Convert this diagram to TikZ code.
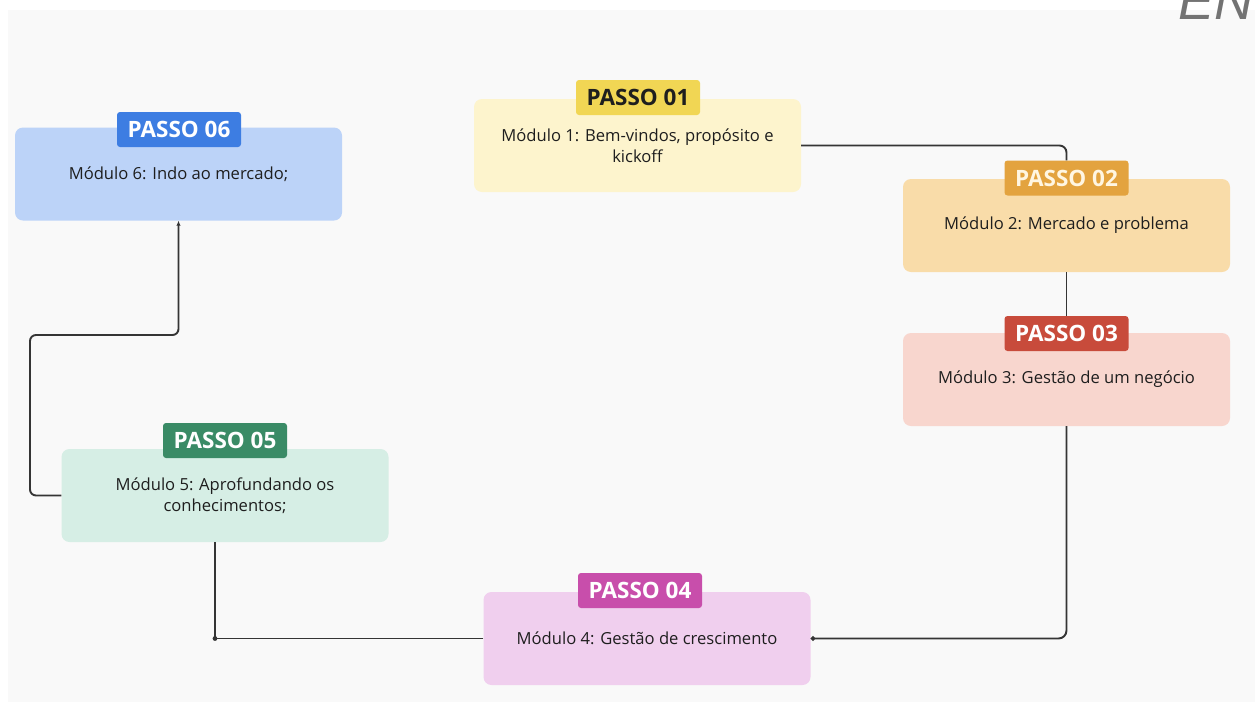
\documentclass[tikz,border=0pt]{standalone}
\usepackage{fontspec}
\setmainfont{Open Sans}
\newfontfamily\markfont{Liberation Sans}
\usetikzlibrary{arrows.meta}

\definecolor{panelbg}{HTML}{F9F9F9}
\definecolor{ink}{HTML}{1E1E1E}
\definecolor{wire}{HTML}{353535}
\definecolor{fillA}{HTML}{FDF4CD}\definecolor{tagA}{HTML}{F1D654}
\definecolor{fillB}{HTML}{F9DCA9}\definecolor{tagB}{HTML}{E3A33F}
\definecolor{fillC}{HTML}{F8D6CE}\definecolor{tagC}{HTML}{C84B3B}
\definecolor{fillD}{HTML}{F0CFEE}\definecolor{tagD}{HTML}{C84EAB}
\definecolor{fillE}{HTML}{D6EEE5}\definecolor{tagE}{HTML}{3A8B66}
\definecolor{fillF}{HTML}{BCD3F8}\definecolor{tagF}{HTML}{3D7DE2}
\definecolor{creamtext}{HTML}{FFF6E2}

\tikzset{
  modbox/.style={rectangle, rounded corners=8pt, draw=none, minimum width=327pt,
    minimum height=93pt, align=center, text=ink, inner sep=0pt,
    font=\fontsize{16.6}{21}\selectfont},
  tagbox/.style={rectangle, rounded corners=3pt, draw=none, minimum width=124pt,
    minimum height=35pt, inner sep=0pt, text=white,
    font=\fontsize{22.5}{22.5}\selectfont\bfseries},
  conn/.style={draw=wire, line width=1.9pt},
}

\begin{document}
\begin{tikzpicture}[x=1pt,y=-1pt]
\useasboundingbox (0,0) rectangle (1255,702);
\fill[panelbg] (8,10) rectangle (1255,702);
\node[anchor=base west, text=black!55, inner sep=0pt,
      font=\markfont\itshape\fontsize{54}{54}\selectfont] (mark) at (1178,19) {EN};

% module cards
\node[modbox, fill=fillA] (b1) at (637.5,145.5) {Módulo 1: Bem-vindos, propósito e\\kickoff};
\node[modbox, fill=fillB] (b2) at (1066.5,225.5) {Módulo 2: Mercado e problema};
\node[modbox, fill=fillC] (b3) at (1066.5,379.5) {Módulo 3: Gestão de um negócio};
\node[modbox, fill=fillD] (b4) at (647,638.5) {Módulo 4: Gestão de crescimento};
\node[modbox, fill=fillE] (b5) at (225,495.5) {Módulo 5: Aprofundando os\\conhecimentos;};
\node[modbox, fill=fillF] (b6) at (178.5,174) {Módulo 6: Indo ao mercado;};

% step tags
\node[tagbox, fill=tagA, text=ink] (p1) at (638,97.5) {PASSO 01};
\node[tagbox, fill=tagB, text=creamtext] (p2) at (1066.5,178) {PASSO 02};
\node[tagbox, fill=tagC] (p3) at (1066.5,333.5) {PASSO 03};
\node[tagbox, fill=tagD] (p4) at (640,590.5) {PASSO 04};
\node[tagbox, fill=tagE] (p5) at (225,440.5) {PASSO 05};
\node[tagbox, fill=tagF] (p6) at (179,129.5) {PASSO 06};

% connectors
\coordinate (k45) at (215,638.5);
\coordinate (k56a) at (30,335);
\coordinate (k56b) at (178.5,335);

\draw[conn, rounded corners=7pt] (b1.east) -| (p2.north);
\draw[conn] (b2.south) -- (p3.north);
\draw[conn, rounded corners=8pt, -{Circle[length=4.5pt]}] (b3.south) |- (b4.east);
\draw[conn] (b4.west) -- (k45) -- (b5.south -| k45);
\fill[wire] (k45) circle (2.4pt);
\draw[conn, rounded corners=6pt, -{Latex[length=5pt,width=4.5pt]}]
  (b5.west) -| (k56a) -- (k56b) -- (b6.south);
\end{tikzpicture}
\end{document}
